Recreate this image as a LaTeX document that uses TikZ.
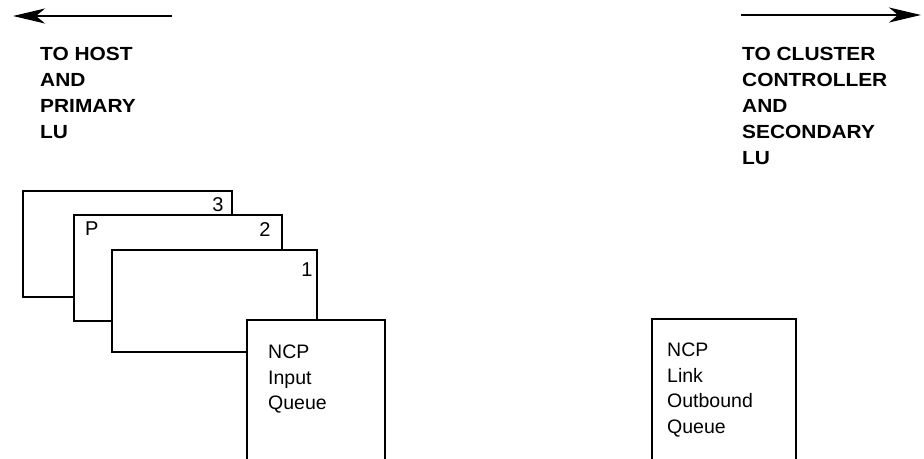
\documentclass[tikz,border=0pt]{standalone}
\usepackage{fontspec}
\setmainfont{Liberation Sans}
\newfontfamily\hdfont[FakeStretch=1.1]{Liberation Sans}
\usetikzlibrary{arrows.meta}
\tikzset{
  heading/.style={anchor=north west, inner sep=0pt, align=left,
    font=\hdfont\bfseries\fontsize{19}{26}\selectfont},
  queuelbl/.style={anchor=north west, inner sep=0pt, align=left,
    font=\fontsize{19.5}{25.5}\selectfont},
  numlbl/.style={anchor=north, inner sep=0pt, font=\fontsize{20}{20}\selectfont},
  card/.style={draw, fill=white, line width=2.2pt, line join=miter},
  arr/.style={line width=2.4pt, -{Stealth[length=32pt,width=15pt,inset=9pt]}}
}
\begin{document}
\begin{tikzpicture}[x=1pt,y=-1pt]
\useasboundingbox (0,0) rectangle (924,458);
% arrows
\coordinate (hosttail) at (172,16);
\coordinate (hosttip) at (13,16);
\coordinate (cctail) at (741,15);
\coordinate (cctip) at (921,15);
\draw[arr] (hosttail) -- (hosttip);
\draw[arr] (cctail) -- (cctip);
% headings
\node[heading] (host) at (40,47) {TO HOST\\AND\\PRIMARY\\LU};
\node[heading] (cluster) at (742,47) {TO CLUSTER\\CONTROLLER\\AND\\SECONDARY\\LU};
% stacked cards
\path[card] (23,191) rectangle (232,297);
\node[numlbl] (n3) at (218,197) {3};
\path[card] (74,215) rectangle (282,321);
\node[numlbl, anchor=north west] (np) at (85,222) {P};
\node[numlbl] (n2) at (265,222) {2};
\path[card] (112,250) rectangle (317,352);
\node[numlbl] (n1) at (307,263) {1};
% queues
\path[card] (247,462) -- (247,320) -- (385,320) -- (385,462);
\node[queuelbl] (inq) at (268,345) {NCP\\Input\\Queue};
\path[card] (652,462) -- (652,319) -- (796,319) -- (796,462);
\node[queuelbl] (outq) at (667,343) {NCP\\Link\\Outbound\\Queue};
\end{tikzpicture}
\end{document}
